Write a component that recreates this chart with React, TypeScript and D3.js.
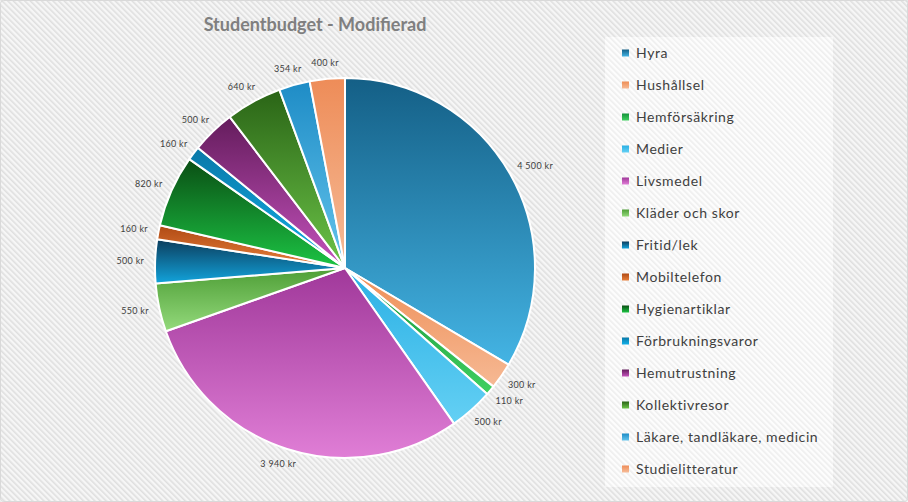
import React from "react";
import * as d3 from "d3";

const categories = [
  "Hyra",
  "Hushållsel",
  "Hemförsäkring",
  "Medier",
  "Livsmedel",
  "Kläder och skor",
  "Fritid/lek",
  "Mobiltelefon",
  "Hygienartiklar",
  "Förbrukningsvaror",
  "Hemutrustning",
  "Kollektivresor",
  "Läkare, tandläkare, medicin",
  "Studielitteratur",
];
const values = [4500, 300, 110, 500, 3940, 550, 500, 160, 820, 160, 500, 640, 354, 400];
const valueLabels = ["4 500 kr", "300 kr", "110 kr", "500 kr", "3 940 kr", "550 kr", "500 kr", "160 kr", "820 kr", "160 kr", "500 kr", "640 kr", "354 kr", "400 kr"];
const topColors = ["#145f86", "#ee8e56", "#13923a", "#2ab0e4", "#a0389a", "#4e9e36", "#0c3c5c", "#b04a14", "#0a4e14", "#0a78a8", "#641c5c", "#2a6416", "#1e8cc6", "#ee8c58"];
const bottomColors = ["#44b4e4", "#f6b994", "#40d060", "#64d0f4", "#e07ed6", "#94da7c", "#12a4dc", "#e8803c", "#1cc444", "#12b0e8", "#c452bc", "#6cc448", "#64c4ec", "#f6bc98"];
const title = "Studentbudget - Modifierad";

const W = 908;
const H = 502;
const cx = 345;
const cy = 268;
const R = 190;

function measure(text: string, font: string, spacing: number): number {
  if (typeof document === "undefined") return text.length * 5;
  const c = document.createElement("canvas");
  const ctx = c.getContext("2d");
  if (!ctx) return text.length * 5;
  ctx.font = font;
  return ctx.measureText(text).width + spacing * text.length;
}

export default function App() {
  const pie = d3
    .pie<number>()
    .sort(null)
    .value((d) => d)
    .startAngle(0)
    .endAngle(2 * Math.PI);
  const arcs = pie(values);
  const arc = d3.arc<d3.PieArcDatum<number>>().innerRadius(0).outerRadius(R);

  const labelFont = "9px Lato";
  const labelSpacing = 0.3;
  const gap = 11;
  const labelH = 10;

  return (
    <svg
      width={W}
      height={H}
      style={{ position: "absolute", left: 0, top: 0, display: "block" }}
      fontFamily="Lato, 'Open Sans', sans-serif"
    >
      <defs>
        <pattern id="stripes" patternUnits="userSpaceOnUse" width={4} height={4} patternTransform="rotate(-45)">
          <rect width={4} height={4} fill="#f6f6f6" />
          <rect width={1.6} height={4} fill="#dfdfdf" />
        </pattern>
        <pattern id="stripesLight" patternUnits="userSpaceOnUse" width={4} height={4} patternTransform="rotate(-45)">
          <rect width={4} height={4} fill="#fdfdfd" />
          <rect width={1.6} height={4} fill="#eeeeee" />
        </pattern>
        {categories.map((c, i) => (
          <linearGradient key={c} id={`g${i}`} x1="0" y1="0" x2="0" y2="1">
            <stop offset="0%" stopColor={topColors[i]} />
            <stop offset="100%" stopColor={bottomColors[i]} />
          </linearGradient>
        ))}
      </defs>
      <rect x={0} y={0} width={W} height={H} fill="url(#stripes)" />
      <rect x={0.5} y={0.5} width={W - 1} height={H - 1} rx={3} fill="none" stroke="#d9d9d9" />

      <text x={315} y={31} textAnchor="middle" fontSize={18} fontWeight={700} fill="#7f7f7f">
        {title}
      </text>

      <g transform={`translate(${cx},${cy})`}>
        {arcs.map((a, i) => (
          <path key={categories[i]} d={arc(a) || ""} fill={`url(#g${i})`} stroke="#ffffff" strokeWidth={2} strokeLinejoin="round" />
        ))}
        {arcs.map((a, i) => {
          const mid = (a.startAngle + a.endAngle) / 2;
          const dx = Math.sin(mid);
          const dy = -Math.cos(mid);
          const w = measure(valueLabels[i], labelFont, labelSpacing);
          const px = (R + gap) * dx + (dx * w) / 2;
          const py = (R + gap) * dy + (dy * labelH) / 2;
          return (
            <text key={`l${i}`} x={px} y={py + 3} textAnchor="middle" fontSize={9} letterSpacing={labelSpacing} fill="#404040">
              {valueLabels[i]}
            </text>
          );
        })}
      </g>

      <rect x={605} y={37} width={228} height={450} fill="url(#stripesLight)" />
      {categories.map((c, i) => (
        <g key={c} transform={`translate(622,${53 + i * 32})`}>
          <rect x={0} y={-3.5} width={7} height={7} fill={`url(#g${i})`} />
          <text x={14} y={5} fontSize={14} letterSpacing={0.6} fill="#404040">
            {c}
          </text>
        </g>
      ))}
    </svg>
  );
}
